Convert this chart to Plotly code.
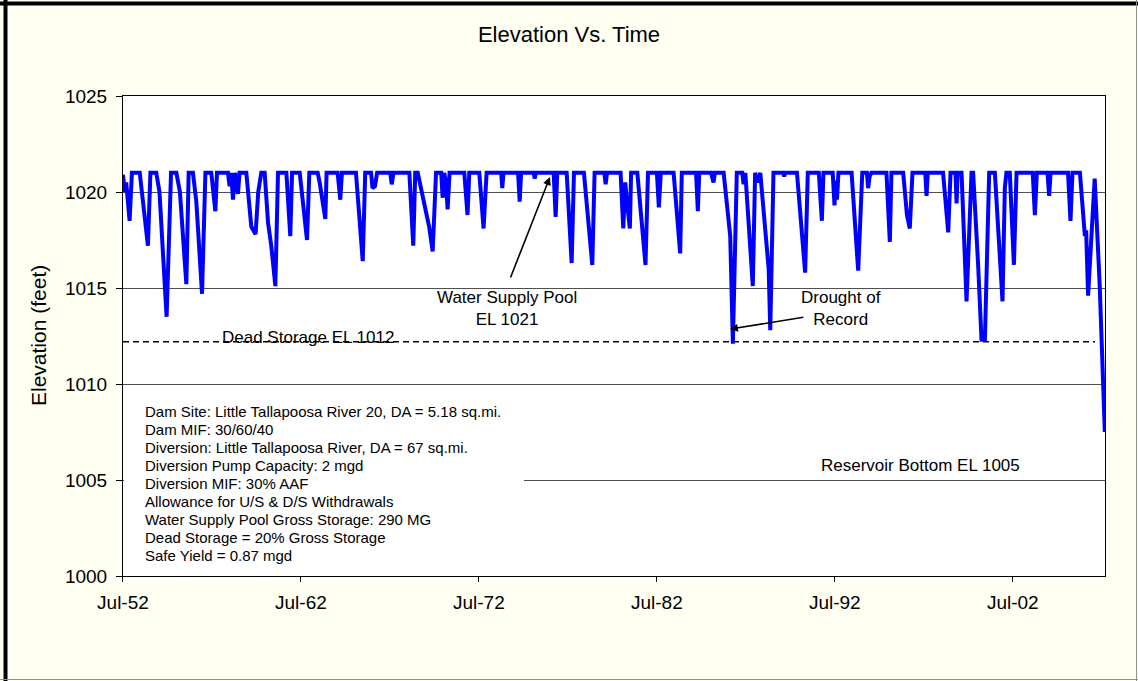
import plotly.graph_objects as go
import pandas as pd

# ---------------- data ----------------
elev_years = [
    1952.50, 1952.60, 1952.68, 1952.87, 1953.00, 1953.44, 1953.90, 1954.04, 1954.37, 1954.55,
    1954.95, 1955.20, 1955.50, 1955.70, 1956.06, 1956.19, 1956.43, 1956.62, 1956.94, 1957.13,
    1957.46, 1957.69, 1957.78, 1958.40, 1958.49, 1958.58, 1958.68, 1958.80, 1958.96, 1959.05,
    1959.43, 1959.71, 1959.95, 1960.10, 1960.27, 1960.46, 1960.65, 1960.83, 1961.06, 1961.21,
    1961.68, 1961.90, 1962.00, 1962.43, 1962.84, 1962.97, 1963.44, 1963.55, 1963.87, 1963.94,
    1964.56, 1964.71, 1964.80, 1965.59, 1965.97, 1966.11, 1966.44, 1966.52, 1966.66, 1966.78,
    1967.52, 1967.60, 1967.70, 1968.59, 1968.81, 1968.92, 1969.06, 1969.70, 1969.90, 1970.09,
    1970.38, 1970.46, 1970.55, 1970.65, 1970.74, 1970.85, 1971.68, 1971.86, 1971.96, 1972.52,
    1972.76, 1972.93, 1973.75, 1973.81, 1973.88, 1974.70, 1974.79, 1974.87, 1975.58, 1975.63,
    1975.70, 1976.70, 1976.81, 1976.90, 1977.43, 1977.71, 1977.84, 1978.40, 1978.87, 1979.00,
    1979.55, 1979.62, 1979.70, 1980.46, 1980.61, 1980.72, 1980.85, 1980.98, 1981.05, 1981.40,
    1981.86, 1982.00, 1982.50, 1982.61, 1982.72, 1983.44, 1983.81, 1983.90, 1984.70, 1984.80,
    1984.88, 1985.55, 1985.62, 1985.68, 1985.76, 1986.25, 1986.62, 1986.77, 1986.99, 1987.30,
    1987.37, 1987.47, 1987.89, 1988.02, 1988.15, 1988.31, 1988.78, 1988.87, 1989.05, 1989.60,
    1989.65, 1989.70, 1990.37, 1990.83, 1990.98, 1991.60, 1991.77, 1991.86, 1992.38, 1992.48,
    1992.55, 1992.62, 1992.70, 1993.44, 1993.81, 1994.04, 1994.30, 1994.37, 1994.45, 1994.55,
    1995.40, 1995.59, 1995.68, 1996.34, 1996.55, 1996.71, 1996.86, 1997.58, 1997.65, 1997.72,
    1998.58, 1998.87, 1999.00, 1999.28, 1999.34, 1999.40, 1999.62, 1999.80, 1999.90, 2000.18,
    2000.27, 2000.55, 2000.74, 2000.93, 2001.17, 2001.49, 2001.92, 2002.05, 2002.14, 2002.33,
    2002.56, 2002.71, 2003.62, 2003.74, 2003.85, 2004.45, 2004.54, 2004.62, 2005.60, 2005.74,
    2005.85, 2006.27, 2006.55, 2006.62, 2006.73, 2007.10, 2007.38, 2007.67,
]
elev_values = [
    1020.9, 1020.0, 1020.5, 1018.5, 1021.0, 1021.0, 1017.2, 1021.0, 1021.0, 1020.0,
    1013.5, 1021.0, 1021.0, 1020.0, 1015.2, 1021.0, 1021.0, 1019.5, 1014.7, 1021.0,
    1021.0, 1019.0, 1021.0, 1021.0, 1020.3, 1021.0, 1019.6, 1021.0, 1019.9, 1021.0,
    1021.0, 1018.2, 1017.8, 1020.0, 1021.0, 1021.0, 1018.4, 1017.2, 1015.1, 1021.0,
    1021.0, 1017.7, 1021.0, 1021.0, 1017.5, 1021.0, 1021.0, 1020.5, 1018.6, 1021.0,
    1021.0, 1019.6, 1021.0, 1021.0, 1016.4, 1021.0, 1021.0, 1020.2, 1020.3, 1021.0,
    1021.0, 1020.4, 1021.0, 1021.0, 1017.2, 1021.0, 1021.0, 1018.2, 1016.9, 1021.0,
    1021.0, 1019.7, 1021.0, 1020.5, 1019.1, 1021.0, 1021.0, 1018.8, 1021.0, 1021.0,
    1018.1, 1021.0, 1021.0, 1020.2, 1021.0, 1021.0, 1019.5, 1021.0, 1021.0, 1020.7,
    1021.0, 1021.0, 1018.7, 1021.0, 1021.0, 1016.3, 1021.0, 1021.0, 1016.2, 1021.0,
    1021.0, 1020.4, 1021.0, 1021.0, 1018.1, 1020.5, 1019.2, 1018.1, 1021.0, 1021.0,
    1016.2, 1021.0, 1021.0, 1019.2, 1021.0, 1021.0, 1016.8, 1021.0, 1021.0, 1019.0,
    1021.0, 1021.0, 1020.7, 1020.5, 1021.0, 1021.0, 1017.7, 1012.1, 1021.0, 1021.0,
    1020.4, 1021.0, 1015.1, 1021.0, 1020.5, 1021.0, 1016.0, 1012.8, 1021.0, 1021.0,
    1020.8, 1021.0, 1021.0, 1015.8, 1021.0, 1021.0, 1018.5, 1021.0, 1021.0, 1019.3,
    1020.6, 1019.6, 1021.0, 1021.0, 1015.9, 1021.0, 1021.0, 1020.2, 1020.8, 1021.0,
    1021.0, 1017.4, 1021.0, 1021.0, 1018.8, 1018.1, 1021.0, 1021.0, 1019.8, 1021.0,
    1021.0, 1017.9, 1021.0, 1021.0, 1019.4, 1021.0, 1021.0, 1016.2, 1014.3, 1021.0,
    1021.0, 1016.2, 1012.3, 1012.3, 1021.0, 1021.0, 1014.3, 1020.2, 1021.0, 1021.0,
    1016.2, 1021.0, 1021.0, 1018.8, 1021.0, 1021.0, 1019.8, 1021.0, 1021.0, 1018.5,
    1021.0, 1021.0, 1017.7, 1018.0, 1014.6, 1020.7, 1015.2, 1007.5,
]

dead_storage_years = [1952.50, 2007.12]
dead_storage_values = [1012.2, 1012.2]

x_tick_years = [1952, 1962, 1972, 1982, 1992, 2002]
x_tick_labels = ["Jul-52", "Jul-62", "Jul-72", "Jul-82", "Jul-92", "Jul-02"]
y_tick_values = [1000, 1005, 1010, 1015, 1020, 1025]

info_lines = [
    "Dam Site: Little Tallapoosa River 20, DA = 5.18 sq.mi.",
    "Dam MIF: 30/60/40",
    "Diversion: Little Tallapoosa River, DA = 67 sq.mi.",
    "Diversion Pump Capacity: 2 mgd",
    "Diversion MIF: 30% AAF",
    "Allowance for U/S & D/S Withdrawals",
    "Water Supply Pool Gross Storage: 290 MG",
    "Dead Storage = 20% Gross Storage",
    "Safe Yield = 0.87 mgd",
]


def dec_year_to_date(y):
    yr = int(y)
    start = pd.Timestamp(year=yr, month=1, day=1)
    end = pd.Timestamp(year=yr + 1, month=1, day=1)
    return start + (end - start) * (y - yr)


elev_dates = [dec_year_to_date(y) for y in elev_years]
dead_dates = [dec_year_to_date(y) for y in dead_storage_years]
tick_dates = [pd.Timestamp(year=y, month=7, day=1) for y in x_tick_years]

# ---------------- layout geometry (pixels) ----------------
W, H = 1138, 681
L, R, T, B = 123, 1105, 96, 576


def px_x(px):
    return (px - L) / (R - L)


def px_y(py):
    return (B - py) / (B - T)


FONT = "Liberation Sans, Arial, sans-serif"

fig = go.Figure()
fig.add_trace(go.Scatter(
    x=dead_dates, y=dead_storage_values, mode="lines",
    line=dict(color="black", width=1.3, dash="6px,4px"),
    hoverinfo="skip", showlegend=False,
))
fig.add_trace(go.Scatter(
    x=elev_dates, y=elev_values, mode="lines",
    line=dict(color="#0000FF", width=4),
    showlegend=False, name="Elevation",
))

annotations = []
annotations.append(dict(text="Elevation (feet)", textangle=-90, xref="paper", yref="paper",
                        x=px_x(38), y=px_y(336), xanchor="center", yanchor="middle",
                        showarrow=False, font=dict(family=FONT, size=21, color="black")))
for i, line in enumerate(info_lines):
    annotations.append(dict(text=line, xref="paper", yref="paper", x=px_x(143), y=px_y(411 + 18 * i),
                            xanchor="left", yanchor="middle", showarrow=False,
                            font=dict(family=FONT, size=15, color="black")))
annotations.append(dict(text="Water Supply Pool<br>EL 1021", xref="paper", yref="paper",
                        x=px_x(507), y=px_y(308), xanchor="center", yanchor="middle",
                        showarrow=False, align="center",
                        font=dict(family=FONT, size=17, color="black")))
annotations.append(dict(text="Drought of<br>Record", xref="paper", yref="paper",
                        x=px_x(841), y=px_y(308), xanchor="center", yanchor="middle",
                        showarrow=False, align="center",
                        font=dict(family=FONT, size=17, color="black")))
annotations.append(dict(text="Dead Storage EL 1012", xref="paper", yref="paper",
                        x=px_x(220), y=px_y(337), xanchor="left", yanchor="middle", showarrow=False,
                        font=dict(family=FONT, size=17, color="black")))
annotations.append(dict(text="Reservoir Bottom EL 1005", xref="paper", yref="paper",
                        x=px_x(1022), y=px_y(465), xanchor="right", yanchor="middle", showarrow=False,
                        font=dict(family=FONT, size=17, color="black")))
annotations.append(dict(text="", x=dec_year_to_date(1976.49), y=1020.78, xref="x", yref="y",
                        ax=-40, ay=102, showarrow=True, arrowhead=2, arrowsize=1,
                        arrowwidth=1.6, arrowcolor="black", standoff=0))
annotations.append(dict(text="", x=dec_year_to_date(1986.6), y=1012.86, xref="x", yref="y",
                        ax=75, ay=-12, showarrow=True, arrowhead=2, arrowsize=1,
                        arrowwidth=1.6, arrowcolor="black", standoff=0))

shapes = [
    # white fill of the info box (hides the 1005 grid line behind it)
    dict(type="rect", xref="paper", yref="paper", x0=px_x(124), x1=px_x(524),
         y0=px_y(570), y1=px_y(398), fillcolor="white", line=dict(width=0), layer="above"),
    dict(type="line", xref="paper", yref="paper", x0=px_x(5.5), x1=px_x(5.5),
         y0=px_y(0), y1=px_y(H), line=dict(color="black", width=4)),
    dict(type="line", xref="paper", yref="paper", x0=px_x(0), x1=px_x(W),
         y0=px_y(3.5), y1=px_y(3.5), line=dict(color="black", width=4)),
    dict(type="line", xref="paper", yref="paper", x0=px_x(1136.5), x1=px_x(1136.5),
         y0=px_y(0), y1=px_y(H), line=dict(color="#909090", width=1)),
    dict(type="line", xref="paper", yref="paper", x0=px_x(0), x1=px_x(W),
         y0=px_y(679.5), y1=px_y(679.5), line=dict(color="#909090", width=1)),
]

fig.update_layout(
    width=W, height=H,
    margin=dict(l=L, r=W - R, t=T, b=H - B, pad=0),
    paper_bgcolor="#FFFFF2",
    plot_bgcolor="white",
    font=dict(family=FONT, color="black"),
    title=dict(text="Elevation Vs. Time", x=0.5, xref="container", xanchor="center",
               y=1 - 34 / H, yref="container", yanchor="middle",
               font=dict(family=FONT, size=22, color="black")),
    annotations=annotations,
    shapes=shapes,
    showlegend=False,
)
fig.update_xaxes(
    type="date",
    range=[dec_year_to_date(1952.5), dec_year_to_date(2007.68)],
    tickmode="array", tickvals=tick_dates, ticktext=x_tick_labels,
    ticks="outside", ticklen=5, tickcolor="black", tickwidth=1,
    tickfont=dict(family=FONT, size=19, color="black"),
    ticklabelstandoff=4,
    showgrid=False, zeroline=False,
    showline=True, linecolor="black", linewidth=1, mirror=True,
)
fig.update_yaxes(
    range=[1000, 1025],
    tickmode="array", tickvals=y_tick_values, ticktext=[str(v) for v in y_tick_values],
    ticks="outside", ticklen=6, tickcolor="black", tickwidth=1,
    tickfont=dict(family=FONT, size=19, color="black"),
    ticklabelstandoff=5,
    showgrid=True, gridcolor="#505050", gridwidth=1, zeroline=False,
    showline=True, linecolor="black", linewidth=1, mirror=True,
)

fig.write_html("out.html", config={"displayModeBar": False},
               post_script="document.body.style.margin='0px';")
